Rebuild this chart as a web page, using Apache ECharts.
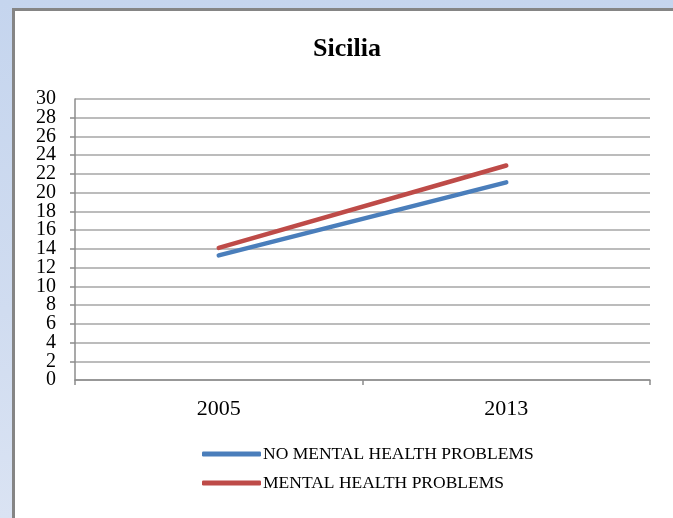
<!DOCTYPE html>
<html>
<head>
<meta charset="utf-8">
<script src="https://cdn.jsdelivr.net/npm/echarts@6/dist/echarts.min.js"></script>
<style>
  html, body { margin: 0; padding: 0; width: 673px; height: 518px; overflow: hidden; }
  body { background: linear-gradient(to bottom, #c5d5ee 0%, #d0dcf0 60%, #dae3f3 100%); position: relative; }
  #frame { position: absolute; left: 12px; top: 8px; width: 700px; height: 560px;
           background: #ffffff; border-left: 3px solid #858585; border-top: 3px solid #858585; box-sizing: border-box; }
  #chart { position: absolute; left: 0; top: 0; width: 673px; height: 518px; }
</style>
</head>
<body>
<div id="frame"></div>
<div id="chart"></div>
<script>
  const years = ['2005', '2013'];
  const noProblems = [13.3, 21.1];
  const withProblems = [14.1, 22.9];
  const seriesNames = ['NO MENTAL HEALTH PROBLEMS', 'MENTAL HEALTH PROBLEMS'];
  const yMin = 0;
  const yMax = 30;
  const yStep = 2;

  const serif = '"Liberation Serif", "Times New Roman", serif';
  const labelFont = { fontFamily: serif, fontSize: 20, color: '#000', margin: 19 };
  const chart = echarts.init(document.getElementById('chart'), null, { renderer: 'canvas' });

  chart.setOption({
    backgroundColor: 'transparent',
    animation: false,
    title: {
      text: 'Sicilia',
      left: 313,
      top: 36,
      padding: 0,
      textStyle: { fontFamily: serif, fontSize: 26, fontWeight: 'bold', color: '#000' }
    },
    legend: {
      orient: 'vertical',
      left: 202,
      top: 445,
      padding: 0,
      itemWidth: 59,
      itemHeight: 5,
      itemGap: 11,
      icon: 'roundRect',
      textStyle: { fontFamily: serif, fontSize: 17.5, color: '#000', padding: [0, 0, 0, -3] },
      data: seriesNames
    },
    grid: { left: 75, right: 23, top: 99, bottom: 138, containLabel: false },
    xAxis: {
      type: 'category',
      data: years,
      boundaryGap: true,
      axisLine: { lineStyle: { color: '#8c8c8c', width: 1.5 } },
      axisTick: { show: true, length: 5, lineStyle: { color: '#8c8c8c', width: 1.5 } },
      axisLabel: { fontFamily: serif, fontSize: 22, color: '#000', margin: 18 }
    },
    yAxis: [
      {
        // main value axis: grid, ticks and the inner labels
        type: 'value',
        min: yMin,
        max: yMax,
        interval: yStep,
        axisLine: { show: true, lineStyle: { color: '#8c8c8c', width: 1.5 } },
        axisTick: { show: true, length: 5, lineStyle: { color: '#8c8c8c', width: 1.5 } },
        splitLine: { lineStyle: { color: '#a6a6a6', width: 1.5 } },
        axisLabel: Object.assign({ showMinLabel: false, showMaxLabel: false }, labelFont)
      },
      {
        // same scale, only carries the end labels (0 and 30)
        type: 'value',
        position: 'left',
        min: yMin,
        max: yMax,
        interval: yMax - yMin,
        axisLine: { show: false },
        axisTick: { show: false },
        splitLine: { show: false },
        axisLabel: Object.assign({ showMinLabel: true, showMaxLabel: true }, labelFont)
      }
    ],
    series: [
      {
        name: seriesNames[0],
        type: 'line',
        data: noProblems,
        symbol: 'none',
        color: '#4a7ebb',
        lineStyle: { width: 4.5, cap: 'round' }
      },
      {
        name: seriesNames[1],
        type: 'line',
        data: withProblems,
        symbol: 'none',
        color: '#be4b48',
        lineStyle: { width: 4.5, cap: 'round' }
      }
    ]
  });
</script>
</body>
</html>
